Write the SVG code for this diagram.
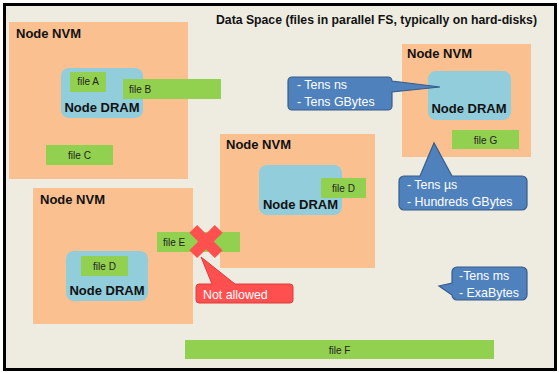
<svg xmlns="http://www.w3.org/2000/svg" width="559" height="373" viewBox="0 0 559 373">
  <style>
    .nvm { fill: #FAC090; }
    .dram { fill: #92CDDC; }
    .file { fill: #92D050; }
    .lbl { font-family: "Liberation Sans", Arial, sans-serif; font-weight: bold; font-size: 13px; fill: #111; }
    .ftxt { font-family: "Liberation Sans", Arial, sans-serif; font-size: 10px; fill: #222; }
    .call { fill: #4F81BD; stroke: #385D8A; stroke-width: 1.2; }
    .ctxt { font-family: "Liberation Sans", Arial, sans-serif; font-size: 12.4px; fill: #fff; }
    .warn { fill: #FF4F4F; stroke: #E03A3A; stroke-width: 1; }
  </style>

  <!-- data space frame -->
  <rect x="0" y="0" width="559" height="373" fill="#fff"/>
  <rect x="4.5" y="4.5" width="551" height="365" fill="#EEECE1" stroke="#000" stroke-width="3"/>
  <text x="216" y="24" class="lbl" font-size="12" textLength="321" lengthAdjust="spacingAndGlyphs">Data Space (files in parallel FS, typically on hard-disks)</text>

  <!-- node 1: top-left -->
  <g id="node-nvm-1">
    <rect class="nvm" x="9" y="22" width="179" height="157"/>
    <text class="lbl" x="16" y="38">Node NVM</text>
    <g id="node-dram-1">
      <rect class="dram" x="61" y="68" width="82" height="50" rx="8"/>
      <text class="lbl" x="102" y="112" text-anchor="middle">Node DRAM</text>
    </g>
    <g id="file-a">
      <rect class="file" x="70" y="72" width="36" height="20"/>
      <text class="ftxt" x="88" y="85" text-anchor="middle">file A</text>
    </g>
    <g id="file-b">
      <rect class="file" x="123" y="79" width="98" height="20"/>
      <text class="ftxt" x="129" y="93">file B</text>
    </g>
    <g id="file-c">
      <rect class="file" x="46" y="145" width="67" height="20"/>
      <text class="ftxt" x="79.5" y="159" text-anchor="middle">file C</text>
    </g>
  </g>

  <!-- node 2: top-right -->
  <g id="node-nvm-2">
    <rect class="nvm" x="402" y="44" width="129" height="113"/>
    <text class="lbl" x="407" y="58">Node NVM</text>
    <g id="node-dram-2">
      <rect class="dram" x="428" y="71" width="83" height="49" rx="8"/>
      <text class="lbl" x="469" y="113" text-anchor="middle">Node DRAM</text>
    </g>
    <g id="file-g">
      <rect class="file" x="452" y="130" width="67" height="19"/>
      <text class="ftxt" x="485.5" y="143.5" text-anchor="middle">file G</text>
    </g>
  </g>

  <!-- node 3: centre -->
  <g id="node-nvm-3">
    <rect class="nvm" x="220" y="134" width="155" height="134"/>
    <text class="lbl" x="226" y="149">Node NVM</text>
    <g id="node-dram-3">
      <rect class="dram" x="259" y="165" width="83" height="50" rx="8"/>
      <text class="lbl" x="300.5" y="209" text-anchor="middle">Node DRAM</text>
    </g>
    <g id="file-d-3">
      <rect class="file" x="321" y="178" width="45" height="20"/>
      <text class="ftxt" x="343.5" y="191.5" text-anchor="middle">file D</text>
    </g>
  </g>

  <!-- node 4: bottom-left -->
  <g id="node-nvm-4">
    <rect class="nvm" x="33" y="188" width="160" height="136"/>
    <text class="lbl" x="40" y="204">Node NVM</text>
    <g id="node-dram-4">
      <rect class="dram" x="66" y="251" width="82" height="50" rx="8"/>
      <text class="lbl" x="107" y="295" text-anchor="middle">Node DRAM</text>
    </g>
    <g id="file-d-4">
      <rect class="file" x="81" y="256" width="47" height="20"/>
      <text class="ftxt" x="104.5" y="270" text-anchor="middle">file D</text>
    </g>
    <g id="file-e">
      <rect class="file" x="157" y="232" width="83" height="20"/>
      <text class="ftxt" x="163" y="246">file E</text>
    </g>
  </g>

  <!-- shared file across the data space -->
  <g id="file-f">
    <rect class="file" x="185" y="340" width="309" height="19"/>
    <text class="ftxt" x="339.5" y="353.5" text-anchor="middle">file F</text>
  </g>

  <!-- forbidden mark on file E -->
  <g id="cross" fill="#FF5050">
    <rect x="188" y="236" width="36" height="11" transform="rotate(45 206 241.5)"/>
    <rect x="188" y="236" width="36" height="11" transform="rotate(-45 206 241.5)"/>
  </g>

  <!-- callouts -->
  <g id="callout-not-allowed">
    <path class="warn" d="M199,284 H212 L201,257 L235,284 H290 A3,3 0 0 1 293,287 V300 A3,3 0 0 1 290,303 H199 A3,3 0 0 1 196,300 V287 A3,3 0 0 1 199,284 Z"/>
    <text class="ctxt" x="203" y="298.5" font-size="14">Not allowed</text>
  </g>

  <g id="callout-dram">
    <path class="call" d="M292,77 H388 A4,4 0 0 1 392,81 L440,87 L392,92 V106 A4,4 0 0 1 388,110 H292 A4,4 0 0 1 288,106 V81 A4,4 0 0 1 292,77 Z"/>
    <text class="ctxt" x="297" y="89">- Tens ns</text>
    <text class="ctxt" x="297" y="106">- Tens GBytes</text>
  </g>

  <g id="callout-nvm">
    <path class="call" d="M404,176 H420 L434,143 L452,176 H522 A5,5 0 0 1 527,181 V205 A5,5 0 0 1 522,210 H404 A5,5 0 0 1 399,205 V181 A5,5 0 0 1 404,176 Z"/>
    <text class="ctxt" x="407" y="189">- Tens µs</text>
    <text class="ctxt" x="407" y="206">- Hundreds GBytes</text>
  </g>

  <g id="callout-space">
    <path class="call" d="M457,267 H522 A5,5 0 0 1 527,272 V295 A5,5 0 0 1 522,300 H457 A5,5 0 0 1 452,295 L439,286 L452,283 V272 A5,5 0 0 1 457,267 Z"/>
    <text class="ctxt" x="459" y="280">-Tens ms</text>
    <text class="ctxt" x="459" y="297">- ExaBytes</text>
  </g>
</svg>
